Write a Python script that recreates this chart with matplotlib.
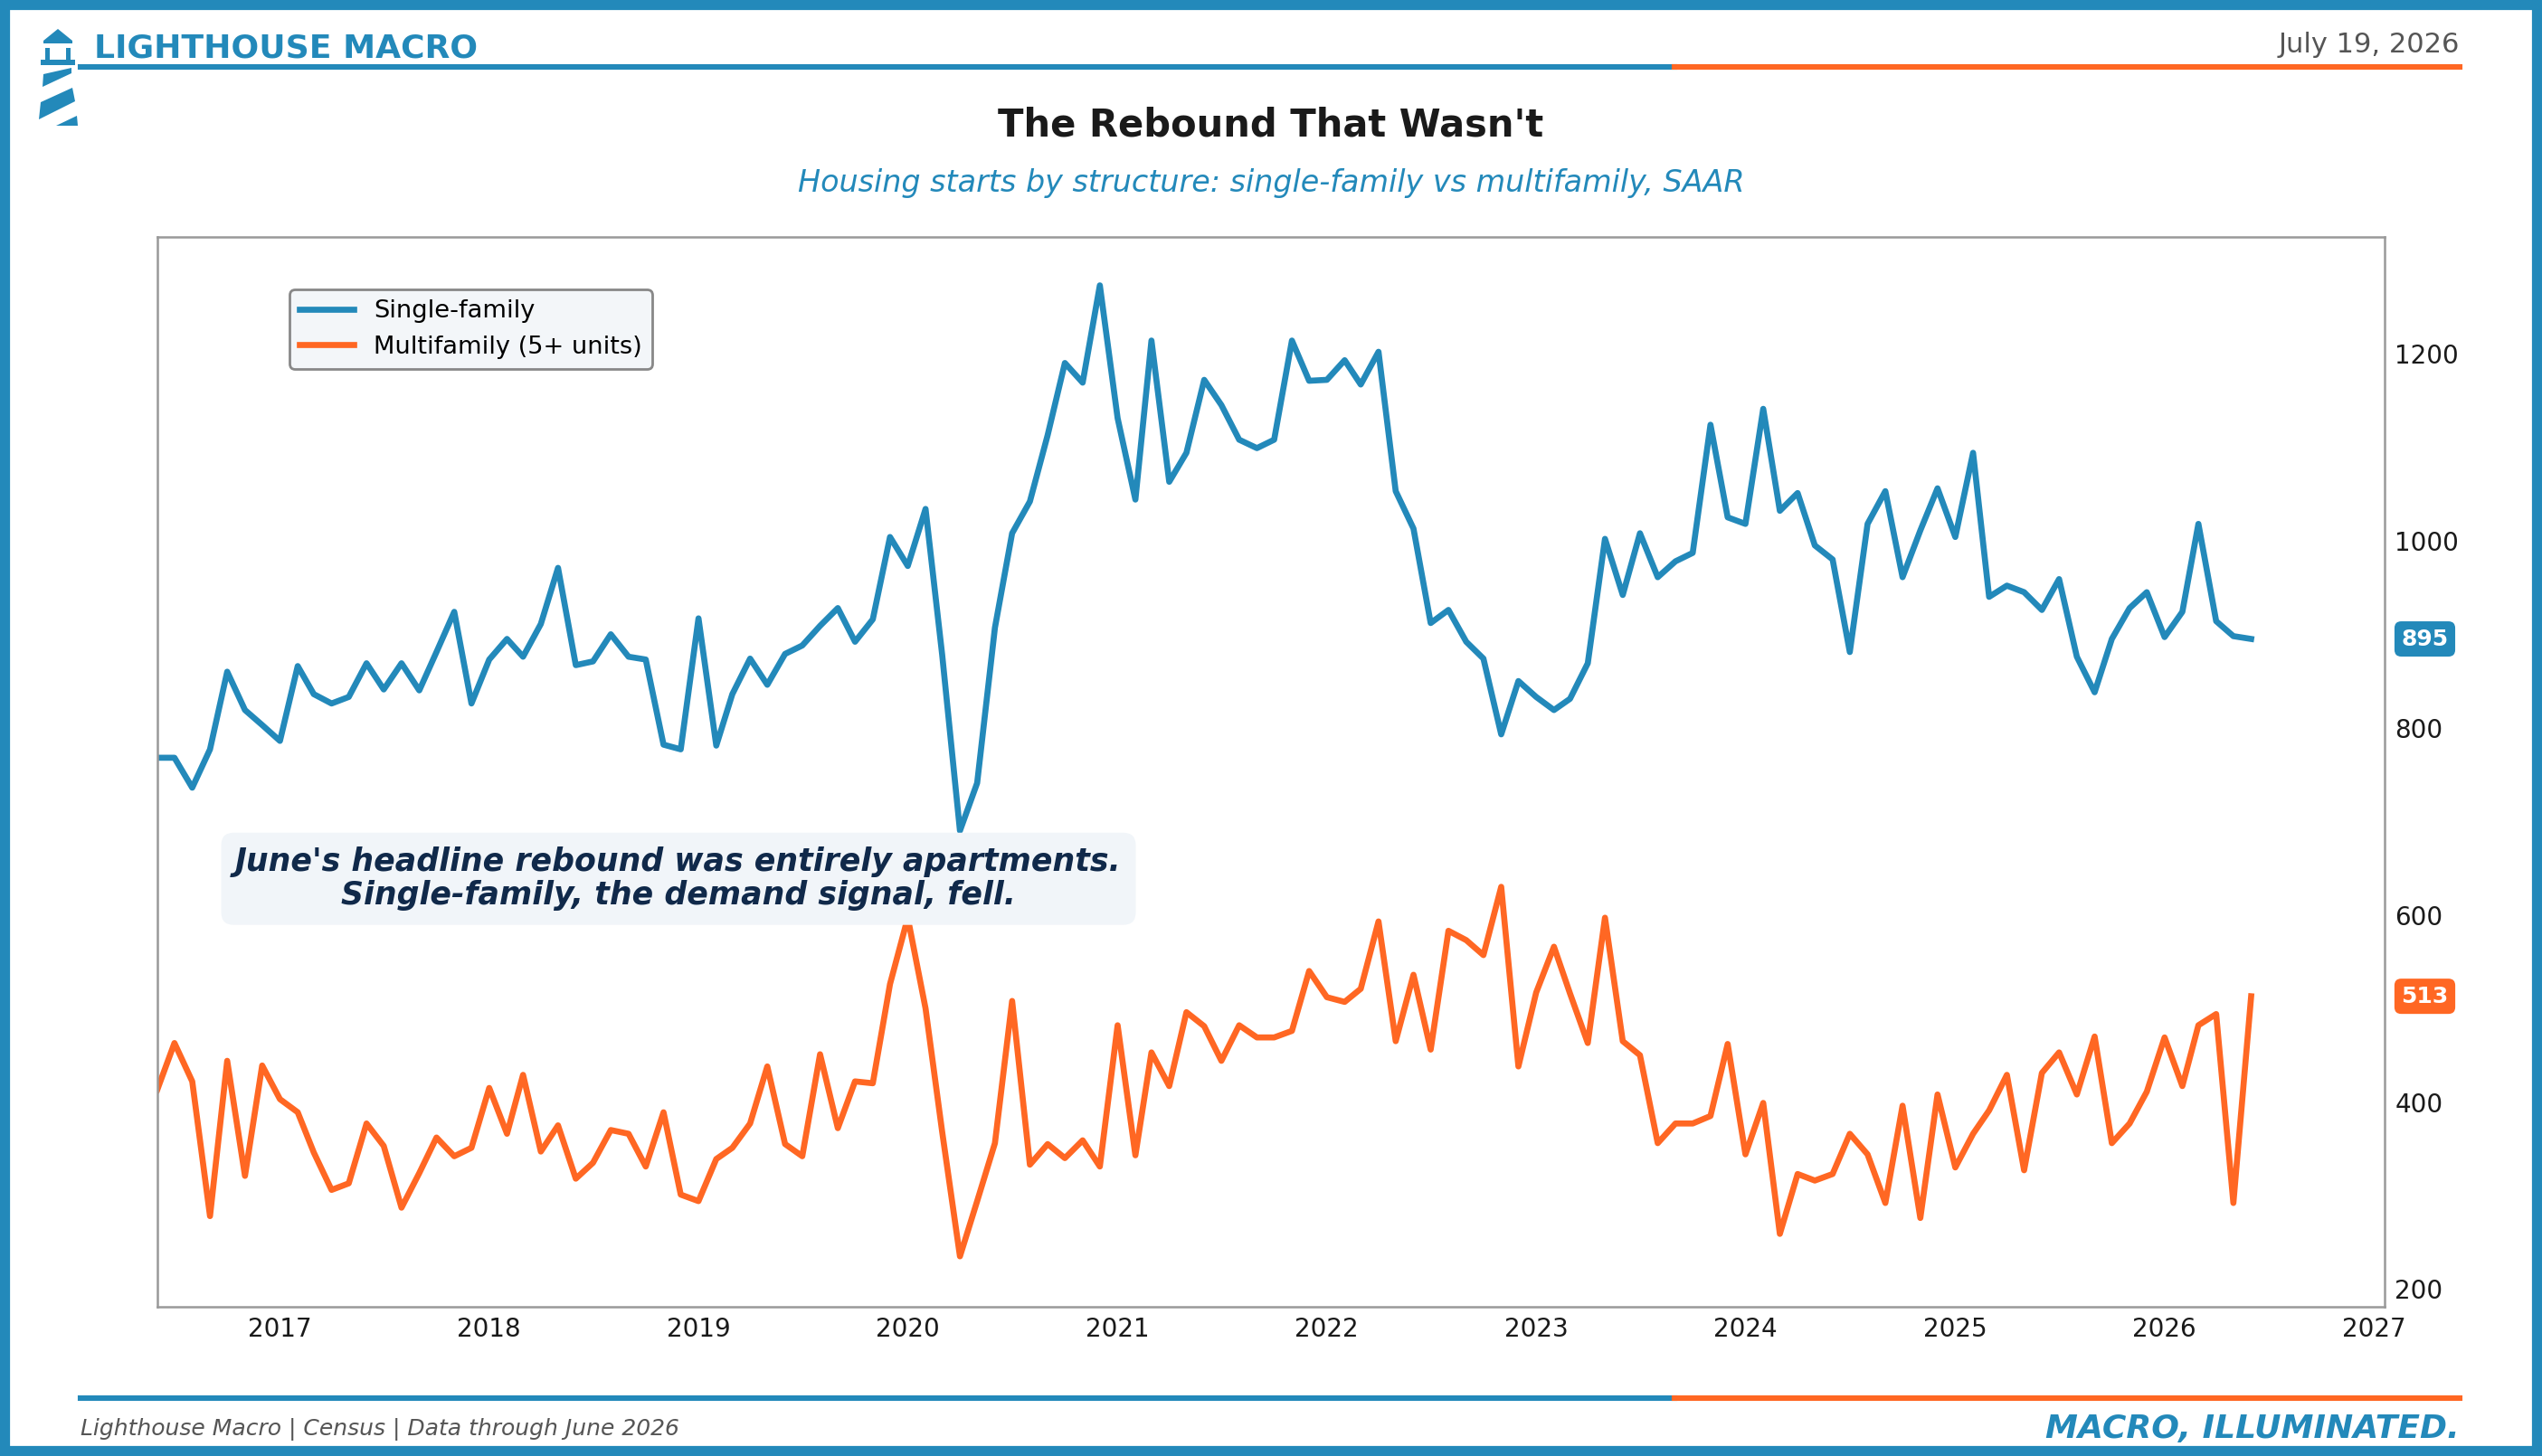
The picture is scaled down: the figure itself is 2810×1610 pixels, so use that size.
import pandas as pd
import matplotlib
matplotlib.use("Agg")
import matplotlib.pyplot as plt
import matplotlib.dates as mdates
from matplotlib.patches import Polygon, Rectangle
from matplotlib.lines import Line2D
from matplotlib.transforms import blended_transform_factory

BLUE = "#2389BA"
ORANGE = "#FF6723"
NAVY = "#10294A"

# monthly SAAR, thousands of units, Jun 2016 .. Jun 2026
start_month = "2016-06-01"
single_family = [
    768, 768, 736, 777, 860, 819, 803, 786, 866, 836, 826, 833,
    869, 841, 869, 840, 881, 924, 826, 873, 895, 876, 911, 971,
    867, 871, 900, 876, 873, 782, 777, 917, 781, 836, 874, 846,
    879, 888, 909, 928, 892, 916, 1004, 973, 1034, 878, 690, 741,
    907, 1008, 1042, 1113, 1190, 1169, 1273, 1131, 1044, 1214, 1063, 1094,
    1172, 1145, 1108, 1099, 1108, 1214, 1171, 1172, 1193, 1167, 1202, 1053,
    1013, 912, 926, 892, 874, 793, 850, 833, 819, 831, 869, 1002,
    942, 1008, 961, 978, 987, 1124, 1025, 1018, 1141, 1032, 1051, 995,
    980, 881, 1018, 1053, 961, 1011, 1056, 1004, 1094, 940, 952, 945,
    926, 959, 876, 838, 895, 928, 945, 897, 924, 1018, 914, 898,
    895,
]
multifamily = [
    413, 463, 422, 278, 444, 321, 439, 403, 389, 346, 306, 313,
    377, 353, 287, 324, 362, 342, 351, 415, 366, 429, 347, 375,
    318, 335, 370, 366, 331, 389, 301, 294, 339, 351, 377, 438,
    355, 342, 451, 372, 422, 420, 526, 597, 500, 368, 235, 294,
    356, 508, 333, 355, 340, 359, 331, 482, 343, 453, 417, 496,
    481, 444, 482, 469, 469, 476, 540, 512, 507, 521, 593, 465,
    536, 456, 583, 573, 557, 630, 438, 517, 566, 516, 463, 597,
    465, 450, 356, 377, 377, 385, 462, 344, 399, 259, 323, 316,
    323, 366, 344, 292, 396, 276, 408, 330, 366, 391, 429, 327,
    431, 453, 408, 470, 356, 377, 411, 469, 417, 482, 494, 292,
    513,
]
dates = pd.date_range(start_month, periods=len(single_family), freq="MS")

W, H = 2810, 1610
fig = plt.figure(figsize=(W / 200, H / 200), dpi=200)
fig.patch.set_facecolor("white")


def px(x, y):
    return x / W, 1 - y / H


# outer frame
fig.patches.append(Rectangle((0, 0), 1, 1, transform=fig.transFigure, fill=False,
                             edgecolor=BLUE, linewidth=8, zorder=10))

# lighthouse logo
logo = [
    [(48, 45), (64, 32), (80, 45), (80, 48), (48, 48)],
    [(45, 66), (50, 66), (50, 53), (55, 53), (55, 66), (73, 66), (73, 53), (78, 53),
     (78, 66), (83, 66), (83, 72), (45, 72)],
    [(48, 82), (79, 75), (79, 81), (47, 96)],
    [(45, 113), (80, 97), (83, 112), (43, 132)],
    [(85, 128), (86, 139), (62, 139)],
]
for shape in logo:
    fig.patches.append(Polygon([px(*p) for p in shape], closed=True, transform=fig.transFigure,
                               facecolor=BLUE, edgecolor="none"))

# header
fig.text(*px(104, 53), "LIGHTHOUSE MACRO", color=BLUE, fontsize=13, fontweight="bold", va="center")
fig.text(*px(2719, 50), "July 19, 2026", color="#555555", fontsize=11, ha="right", va="center")
x0, xm, x1 = 89 / W, 1851 / W, 2719 / W
for y in (1 - 74 / H, 1 - 1546 / H):
    fig.lines.append(Line2D([x0, xm], [y, y], transform=fig.transFigure, color=BLUE, lw=2.2))
    fig.lines.append(Line2D([xm, x1], [y, y], transform=fig.transFigure, color=ORANGE, lw=2.2))

fig.text(0.5, 0.914, "The Rebound That Wasn't", ha="center", va="center",
         fontsize=15, fontweight="bold", color="#1a1a1a")
fig.text(0.5, 0.874, "Housing starts by structure: single-family vs multifamily, SAAR",
         ha="center", va="center", fontsize=12, style="italic", color=BLUE)

# footer
fig.text(*px(89, 1580), "Lighthouse Macro | Census | Data through June 2026",
         fontsize=9, style="italic", color="#555555", va="center")
fig.text(*px(2719, 1580), "MACRO, ILLUMINATED.", fontsize=13, style="italic",
         fontweight="bold", color=BLUE, va="center", ha="right")

ax = fig.add_axes([97 / 1568, 1 - 806 / 898, (1471 - 97) / 1568, (806 - 146) / 898])
ax.plot(dates, single_family, color=BLUE, lw=2.4, label="Single-family")
ax.plot(dates, multifamily, color=ORANGE, lw=2.4, label="Multifamily (5+ units)")

ax.set_xlim(dates[0], pd.Timestamp("2027-01-20"))
ax.set_ylim(181, 1325)
ax.xaxis.set_major_locator(mdates.YearLocator())
ax.xaxis.set_major_formatter(mdates.DateFormatter("%Y"))
ax.yaxis.tick_right()
ax.set_yticks([200, 400, 600, 800, 1000, 1200])
ax.tick_params(axis="both", length=0, labelsize=10, labelcolor="#1a1a1a", pad=4)
for s in ax.spines.values():
    s.set_color("#999999")
    s.set_linewidth(0.9)

leg = ax.legend(loc="upper left", bbox_to_anchor=(0.054, 0.962), fontsize=9.8,
                frameon=True, fancybox=True, handlelength=2.2)
leg.get_frame().set_facecolor("#f3f6f9")
leg.get_frame().set_edgecolor("#888888")
leg.get_frame().set_alpha(1)

ax.text(0.234, 0.40, "June's headline rebound was entirely apartments.\nSingle-family, the demand signal, fell.",
        transform=ax.transAxes, ha="center", va="center", fontsize=12.5, fontweight="bold",
        style="italic", color=NAVY, linespacing=1.1,
        bbox=dict(boxstyle="round,pad=0.45,rounding_size=0.4", facecolor="#f1f5f9", edgecolor="none"))

trans = blended_transform_factory(ax.transAxes, ax.transData)
for series, col in ((single_family, BLUE), (multifamily, ORANGE)):
    ax.text(1.018, series[-1], f"{series[-1]}", transform=trans, ha="center", va="center",
            fontsize=9, fontweight="bold", color="white", clip_on=False,
            bbox=dict(boxstyle="round,pad=0.3,rounding_size=0.3", facecolor=col, edgecolor="none"))

fig.savefig("out.png", dpi=200, facecolor="white")
